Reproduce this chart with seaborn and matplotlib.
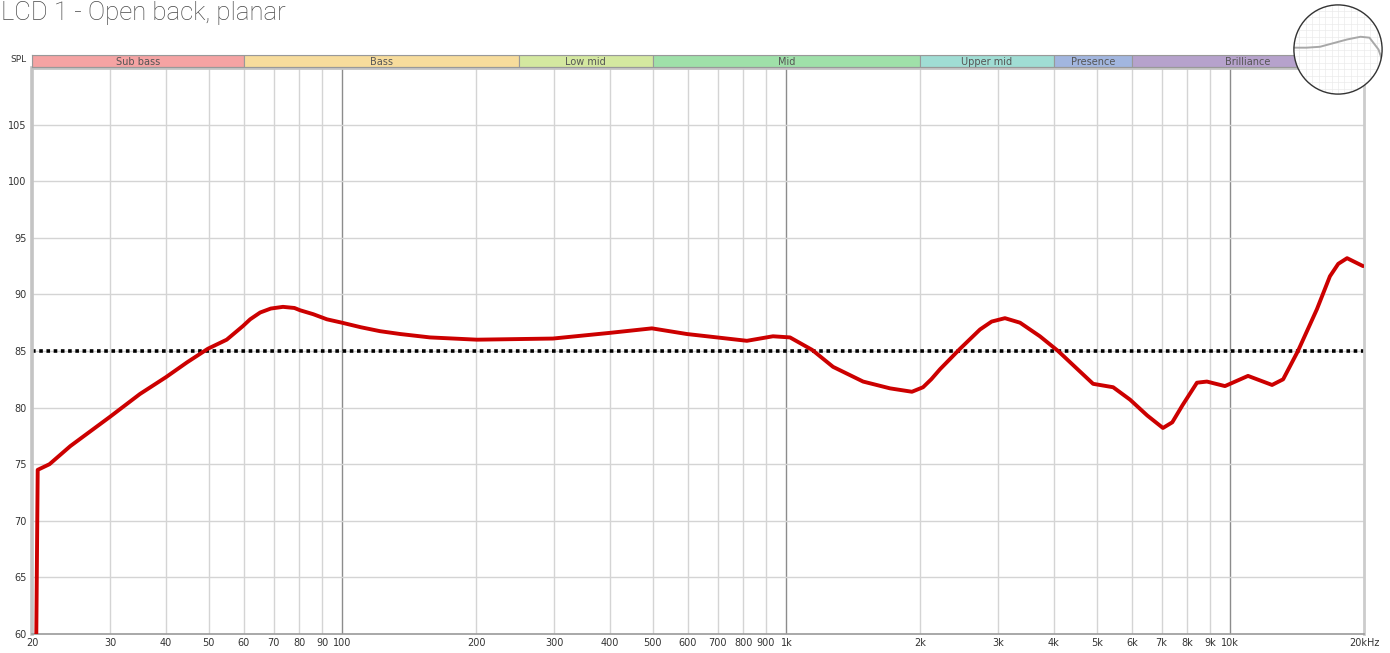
import numpy as np
import pandas as pd
import matplotlib
matplotlib.use("Agg")
import matplotlib.pyplot as plt
import matplotlib.patches as mpatches
import seaborn as sns

# ---- data ----
freq_hz = [20.4, 20.6, 21.9, 24.4, 30.0, 35.0, 40.1, 44.7, 49.8, 54.9, 59.7, 62.0, 65.3, 69.0,
           73.5, 78.0, 80.3, 86.0, 92.3, 99.8, 110, 121.6, 135, 157.5, 201, 298, 400, 498,
           597, 698, 815, 933, 1019, 1143, 1274, 1489, 1712, 1918, 2032, 2120, 2220, 2462,
           2730, 2900, 3107, 3360, 3725, 4093, 4908, 5445, 5945, 6500, 7050, 7400, 7800,
           8410, 8855, 9725, 10960, 12415, 13150, 14200, 15670, 16760, 17500, 18320, 19900]
spl_db = [55.0, 74.5, 75.0, 76.6, 79.2, 81.2, 82.7, 84.0, 85.2, 86.0, 87.2, 87.8, 88.4, 88.75,
          88.9, 88.8, 88.6, 88.25, 87.8, 87.5, 87.1, 86.75, 86.5, 86.2, 86.0, 86.1, 86.6, 87.0,
          86.5, 86.2, 85.9, 86.3, 86.2, 85.1, 83.6, 82.3, 81.7, 81.4, 81.8, 82.5, 83.4, 85.2,
          86.9, 87.6, 87.9, 87.5, 86.3, 85.0, 82.1, 81.8, 80.7, 79.3, 78.2, 78.7, 80.2,
          82.2, 82.3, 81.9, 82.8, 82.0, 82.5, 85.0, 88.7, 91.6, 92.7, 93.2, 92.5]
reference_db = 85

band_names = ["Sub bass", "Bass", "Low mid", "Mid", "Upper mid", "Presence", "Brilliance"]
band_edges = [20, 60, 250, 500, 2000, 4000, 6000, 20000]
band_colors = ["#f5a3a3", "#f7dc9c", "#d4e8a0", "#9fe0a9", "#a0ddd4", "#a2b6df", "#b6a2cc"]

x_ticks = [20, 30, 40, 50, 60, 70, 80, 90, 100, 200, 300, 400, 500, 600, 700, 800, 900,
           1000, 2000, 3000, 4000, 5000, 6000, 7000, 8000, 9000, 10000, 20000]
x_tick_labels = ["20", "30", "40", "50", "60", "70", "80", "90", "100", "200", "300", "400",
                 "500", "600", "700", "800", "900", "1k", "2k", "3k", "4k", "5k", "6k", "7k",
                 "8k", "9k", "10k", "20kHz"]
y_ticks = [60, 65, 70, 75, 80, 85, 90, 95, 100, 105]

title = "LCD 1 - Open back, planar"

# thumbnail curve (inset)
thumb_x = [0.0, 0.15, 0.3, 0.45, 0.6, 0.75, 0.85, 0.95, 1.0]
thumb_y = [0.52, 0.52, 0.53, 0.57, 0.61, 0.64, 0.63, 0.50, 0.36]

# ---- style ----
sns.set_style("white")
plt.rcParams["font.family"] = ["DejaVu Sans"]

fig = plt.figure(figsize=(13.9, 6.53), dpi=100)
W, H = 1390, 653
def rect(x0, y0, x1, y1):
    return [x0 / W, 1 - y1 / H, (x1 - x0) / W, (y1 - y0) / H]

ax = fig.add_axes(rect(32, 68, 1364, 634))
df = pd.DataFrame({"freq": freq_hz, "spl": spl_db})

ax.set_xscale("log")
ax.set_xlim(20, 20000)
ax.set_ylim(60, 110)

# grid
minor = [20, 30, 40, 50, 60, 70, 80, 90, 200, 300, 400, 500, 600, 700, 800, 900,
         2000, 3000, 4000, 5000, 6000, 7000, 8000, 9000]
for f in minor:
    ax.axvline(f, color="#d4d4d4", lw=1.0, zorder=0)
for f in [100, 1000, 10000]:
    ax.axvline(f, color="#8c8c8c", lw=1.0, zorder=0)
for yv in y_ticks[1:]:
    ax.axhline(yv, color="#d4d4d4", lw=1.0, zorder=0)

ax.axhline(reference_db, color="black", lw=2.6, linestyle=(0, (1, 1)), zorder=2)
sns.lineplot(data=df, x="freq", y="spl", ax=ax, color="#cc0000", lw=2.8, zorder=3,
             solid_joinstyle="round", solid_capstyle="round")

ax.set_xticks(x_ticks)
ax.set_xticklabels(x_tick_labels)
ax.xaxis.set_minor_locator(matplotlib.ticker.NullLocator())
ax.set_yticks(y_ticks)
ax.set_yticklabels([str(v) for v in y_ticks])
ax.tick_params(axis="both", length=0, labelsize=7, colors="#333333", pad=3)
ax.tick_params(axis="y", pad=4)
ax.set_xlabel("")
ax.set_ylabel("")
ax.spines["left"].set_color("#c4c4c4")
ax.spines["left"].set_linewidth(2.6)
ax.spines["bottom"].set_color("#9a9a9a")
ax.spines["bottom"].set_linewidth(1.2)
ax.spines["right"].set_color("#cccccc")
ax.spines["right"].set_linewidth(2.0)
ax.spines["top"].set_color("#c4c4c4")
ax.spines["top"].set_linewidth(2.0)

# band bar
bx = fig.add_axes(rect(32, 55, 1364, 67))
bx.set_xscale("log")
bx.set_xlim(20, 20000)
bx.set_ylim(0, 1)
for name, f0, f1, c in zip(band_names, band_edges[:-1], band_edges[1:], band_colors):
    bx.axvspan(f0, f1, color=c, ec="#999999", lw=0.8)
    bx.text(np.sqrt(f0 * f1), 0.45, name, ha="center", va="center", fontsize=7, color="#555555")
bx.set_xticks([])
bx.set_yticks([])
for s in bx.spines.values():
    s.set_color("#999999")
    s.set_linewidth(0.8)
fig.text(27 / W, 1 - 60 / H, "SPL", ha="right", va="center", fontsize=6.5, color="#333333")

# title
fig.text(1 / W, 1 - 1 / H, title, ha="left", va="top", fontsize=18.5, color="#484848",
         family=["Roboto", "DejaVu Sans"], fontweight="light")

# circular thumbnail
tx = fig.add_axes(rect(1293, 4, 1383, 95))
tx.set_xlim(0, 1)
tx.set_ylim(0, 1)
tx.add_patch(mpatches.Circle((0.5, 0.5), 0.49, transform=tx.transAxes, fc="white", ec="none",
                             zorder=0))
for g in np.linspace(0, 1, 15):
    l1 = tx.axvline(g, color="#ebebeb", lw=0.5, zorder=1)
    l2 = tx.axhline(g, color="#ebebeb", lw=0.5, zorder=1)
    l1.set_clip_path(mpatches.Circle((0.5, 0.5), 0.49, transform=tx.transAxes))
    l2.set_clip_path(mpatches.Circle((0.5, 0.5), 0.49, transform=tx.transAxes))
(ln,) = tx.plot(thumb_x, thumb_y, color="#a8a8a8", lw=1.4, zorder=2)
ln.set_clip_path(mpatches.Circle((0.5, 0.5), 0.49, transform=tx.transAxes))
tx.add_patch(mpatches.Circle((0.5, 0.5), 0.49, transform=tx.transAxes, fc="none", ec="#333333",
                             lw=1.0, zorder=5))
tx.axis("off")

fig.savefig("out.png", dpi=100)
